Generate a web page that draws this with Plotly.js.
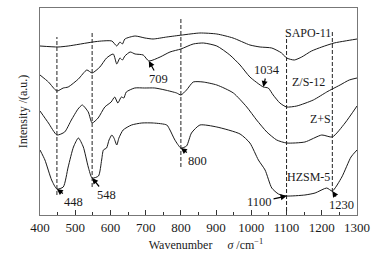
<!DOCTYPE html>
<html><head><meta charset="utf-8">
<script src="https://cdn.plot.ly/plotly-3.0.1.min.js"></script>
<style>html,body{margin:0;padding:0;background:#fff;}</style>
</head><body><div id="chart" style="width:386px;height:257px;"></div>
<script>
// Wavenumber (cm^-1) and intensity (a.u., offset spectra)
const wnSAPO = [400,451,480,550,575,604,618,627,634,641,670,698,721,760,804,854,902,948,996,1025,1058,1086,1100,1122,1143,1171,1200,1235,1266,1300];
const intSAPO = [169,168,169,173,174,174,169,173,171,176,179,177,176,178,180,182,181,177,170,168,167,162,157,155,158,164,168,172,174,176];

const wnZS12 = [400,424,448,466,480,509,533,548,570,589,608,618,627,634,641,656,670,693,709,741,769,800,835,864,902,939,968,996,1034,1048,1062,1081,1100,1129,1176,1214,1230,1252,1278,1300];
const intZS12 = [140,133,124,127,128,136,145,142,148,157,161,151,157,155,159,163,161,160,154,158,163,166,171,172,169,160,150,138,128,127,120,112,108,109,115,123,126,130,135,137];

const wnZS = [400,424,448,470,489,508,520,537,548,565,584,602,612,621,631,638,645,669,697,726,755,788,800,816,835,863,902,949,987,1015,1044,1072,1100,1152,1200,1230,1266,1300];
const intZS = [104,92,80,83,95,106,110,103,92,97,108,113,118,112,118,117,123,127,127,127,125,122,120,125,133,133,130,122,108,95,83,75,72,73,80,78,92,109];

const wnHZSM = [400,414,433,448,466,480,495,509,523,537,548,566,575,580,589,596,604,610,618,624,636,660,689,722,760,769,783,800,816,830,854,902,968,996,1020,1039,1058,1077,1100,1152,1181,1214,1230,1257,1283,1300];
const intHZSM = [65,55,35,26,28,48,68,77,68,48,37,39,55,65,67,75,80,77,70,77,85,90,92,92,90,85,75,67,69,82,90,88,81,72,55,45,27,21,19,20,22,27,24,38,58,65];

const seriesNames = ['SAPO-11','Z/S-12','Z+S','HZSM-5'];
const markerLines = [448,548,800,1100,1230];
const markerLineLow = [20,28,48,4,23];
const markerLineHigh = [178,184,197,179,185];
const tickVals = [400,500,600,700,800,900,1000,1100,1200,1300];

const serif = 'Liberation Serif, Times New Roman, serif';
const ink = '#1a1a1a';

function mk(x,y){return {x:x,y:y,type:'scatter',mode:'lines',line:{color:ink,width:1,shape:'spline',smoothing:0.6},hoverinfo:'skip',showlegend:false};}
const traces = [mk(wnSAPO,intSAPO),mk(wnZS12,intZS12),mk(wnZS,intZS),mk(wnHZSM,intHZSM)];

const shapes = markerLines.map((w,i)=>({type:'line',xref:'x',yref:'y',x0:w,x1:w,y0:markerLineLow[i],y1:markerLineHigh[i],line:{color:'#222',width:1,dash:'4px,2px'}}));

function yAt(xs,ys,w){return ys[xs.indexOf(w)];}
const peakDefs = [
  {w:448, xs:wnHZSM, ys:intHZSM, ax:17, ay:13},
  {w:548, xs:wnHZSM, ys:intHZSM, ax:14, ay:17},
  {w:800, xs:wnHZSM, ys:intHZSM, ax:17, ay:13},
  {w:1100, xs:wnHZSM, ys:intHZSM, ax:-27, ay:6},
  {w:1230, xs:wnHZSM, ys:intHZSM, ax:9, ay:14},
  {w:709, xs:wnZS12, ys:intZS12, ax:10, ay:18},
  {w:1034, xs:wnZS12, ys:intZS12, ax:4, ay:-17}
];
const annotations = peakDefs.map(p=>({x:p.w,y:yAt(p.xs,p.ys,p.w),xref:'x',yref:'y',text:String(p.w),showarrow:true,arrowhead:2,arrowsize:1,arrowwidth:1.2,arrowcolor:'#000',standoff:0,startstandoff:0,ax:p.ax,ay:p.ay,font:{family:serif,size:12.5,color:ink}}));
const labelPos = [[1162,182],[1162,133],[1195,96],[1162,38]];
seriesNames.forEach((n,i)=>annotations.push({x:labelPos[i][0],y:labelPos[i][1],xref:'x',yref:'y',text:n,showarrow:false,font:{family:serif,size:12,color:ink}}));

const layout = {
  width:386,height:257,
  margin:{l:40,r:29,t:8,b:42,pad:0},
  paper_bgcolor:'#fff',plot_bgcolor:'#fff',
  font:{family:serif,color:ink},
  xaxis:{range:[400,1300],tickvals:tickVals,ticktext:tickVals.map(String),ticks:'inside',ticklen:5,tickwidth:1,tickcolor:'#333',
    minor:{dtick:50,tick0:400,ticks:'inside',ticklen:3,tickcolor:'#333'},
    showline:true,linecolor:'#777',linewidth:1,mirror:true,showgrid:false,zeroline:false,
    tickfont:{family:serif,size:13,color:ink},
    title:{text:'&nbsp;&nbsp;&nbsp;&nbsp;&nbsp;Wavenumber&nbsp;&nbsp;&nbsp;&nbsp;&nbsp;<i>σ</i> /cm<sup>−1</sup>',font:{family:serif,size:12,color:ink},standoff:7}},
  yaxis:{range:[0,207],showticklabels:false,ticks:'',showline:true,linecolor:'#777',linewidth:1,mirror:true,showgrid:false,zeroline:false,
    title:{text:'Intensity /(a.u.)',font:{family:serif,size:12,color:ink},standoff:8}},
  shapes:shapes,annotations:annotations
};
Plotly.newPlot('chart',traces,layout,{staticPlot:true,displayModeBar:false});
</script></body></html>
